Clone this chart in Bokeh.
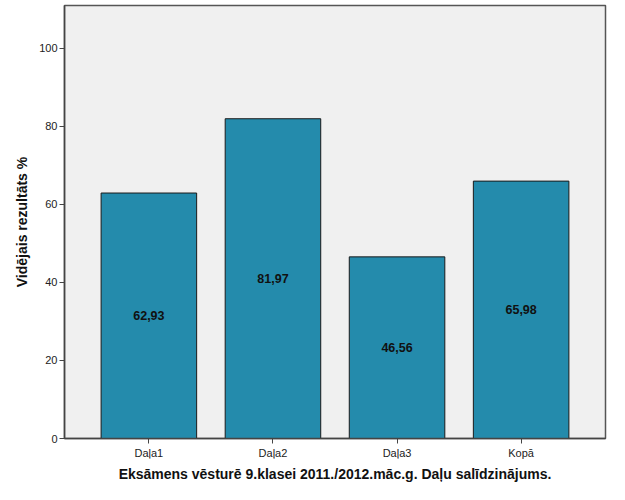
from bokeh.plotting import figure
from bokeh.models import FactorRange, Range1d, ColumnDataSource, FixedTicker
from bokeh.embed import file_html
from bokeh.resources import INLINE
from bokeh.core.properties import value

categories = ["Daļa1", "Daļa2", "Daļa3", "Kopā"]
values = [62.93, 81.97, 46.56, 65.98]
labels = ["62,93", "81,97", "46,56", "65,98"]
y_ticks = [0, 20, 40, 60, 80, 100]

src = ColumnDataSource(dict(
    cat=categories,
    val=values,
    mid=[v / 2 for v in values],
    lab=labels,
))

p = figure(width=609, height=484, output_backend="svg", toolbar_location=None,
           x_range=FactorRange(factors=categories, range_padding=0.09),
           y_range=Range1d(0, 111.0),
           min_border_left=64, min_border_right=4, min_border_top=5, min_border_bottom=42)

p.background_fill_color = "#F0F0F0"
p.border_fill_color = "white"
p.outline_line_color = "#555555"
p.outline_line_width = 1.5
p.grid.visible = False

p.vbar(x="cat", top="val", width=0.77, source=src,
       fill_color="#248BAC", line_color="#1a1a1a", line_width=1)

p.text(x="cat", y="mid", text="lab", source=src,
       text_align="center", text_baseline="middle",
       text_font=value("Liberation Sans"), text_font_style="bold",
       text_font_size="12.5px", text_color="#111111")

p.yaxis.ticker = FixedTicker(ticks=y_ticks)
p.yaxis.minor_tick_line_color = None
p.xaxis.minor_tick_line_color = None
for ax in (p.xaxis, p.yaxis):
    ax.axis_line_color = "#444444"
    ax.axis_line_width = 1.5
    ax.major_tick_line_color = "#444444"
    ax.major_tick_in = 0
    ax.major_tick_out = 5
    ax.major_label_text_font = "Liberation Sans"
    ax.major_label_text_font_size = "11px"
    ax.major_label_text_color = "#222222"
    ax.major_label_standoff = 2
    ax.axis_label_text_font = "Liberation Sans"
    ax.axis_label_text_font_style = "bold"
    ax.axis_label_text_font_size = "14px"
    ax.axis_label_text_color = "#111111"

p.xaxis.major_label_standoff = 3
p.yaxis.axis_label = "Vidējais rezultāts %"
p.xaxis.axis_label = "Eksāmens vēsturē 9.klasei 2011./2012.māc.g. Daļu salīdzinājums."
p.yaxis.axis_label_standoff = 6
p.xaxis.axis_label_standoff = 4

open("out.html", "w").write(file_html(p, INLINE))
